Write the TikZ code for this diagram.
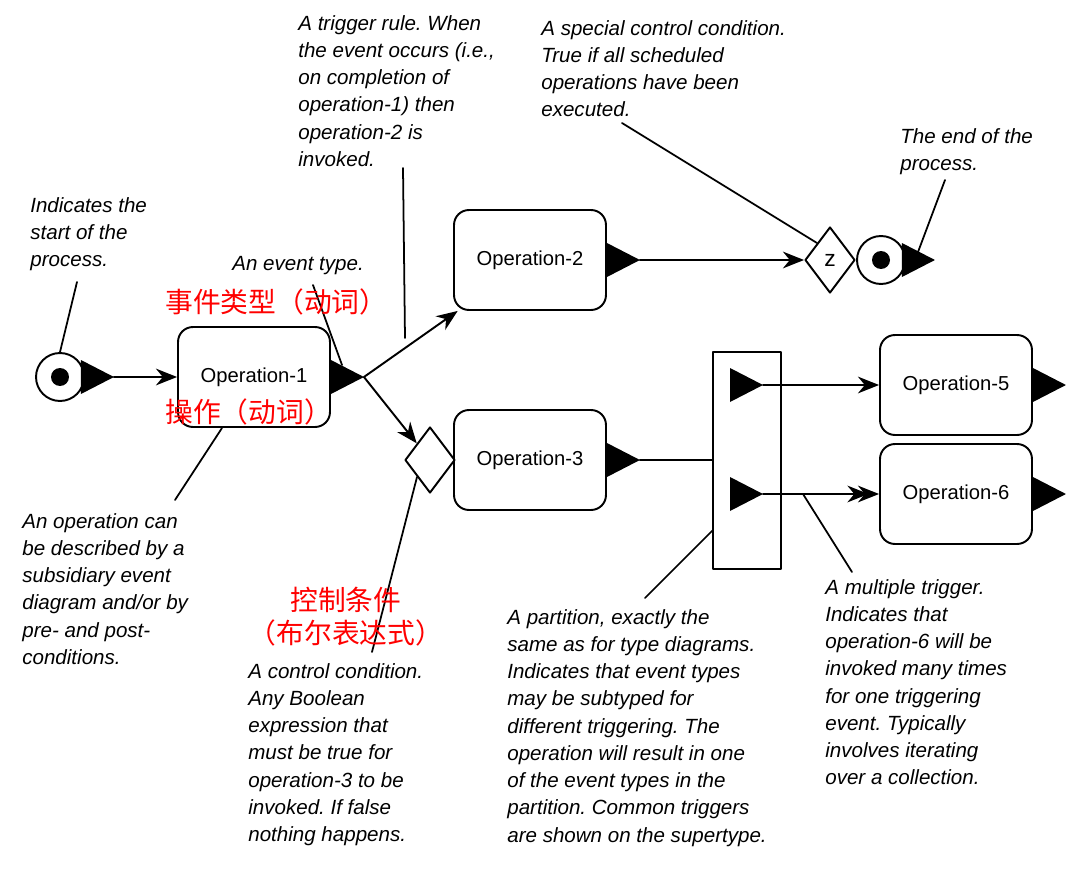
\documentclass[tikz,border=0pt]{standalone}
\usepackage{fontspec}
\setmainfont{Liberation Sans}
\newfontfamily\cjk{Noto Sans CJK SC}
\usepackage{tikz}
\usetikzlibrary{calc,shapes.geometric,arrows.meta}
\frenchspacing
\definecolor{ink}{HTML}{000000}
\definecolor{note}{HTML}{FF0000}
\tikzset{
  base/.style={draw=ink, line width=1.1pt, line cap=round, line join=round},
  op/.style={base, fill=white, rounded corners=8.5pt, minimum width=3.04cm, minimum height=2cm, inner sep=0pt, font=\fontsize{11.5}{14}\selectfont},
  cond/.style={base, fill=white, diamond, aspect=0.76, inner sep=0pt, minimum width=1cm, minimum height=1.32cm, font=\fontsize{13}{15}\selectfont},
  ends/.style={base, fill=white, circle, inner sep=0pt, minimum size=0.96cm},
  dot/.style={circle, fill=ink, inner sep=0pt, minimum size=0.36cm},
  part/.style={base, fill=white, minimum width=1.36cm, minimum height=4.34cm, inner sep=0pt},
  arr/.style={base, -{Stealth[length=12pt,width=9.5pt]}},
  multi/.style={base, -{Stealth[length=12pt,width=9.5pt,sep=-6pt]Stealth[length=12pt,width=9.5pt]}},
  lead/.style={draw=ink, line width=1pt, line cap=round},
  ann/.style={anchor=north west, inner sep=0pt, align=left, text=ink, font=\fontsize{11.7}{15.5}\selectfont\itshape},
  cn/.style={text=note, inner sep=0pt, font=\cjk\fontsize{15.8}{18.7}\selectfont},
}
\newcommand\port[2]{\fill[ink] (#1) ++(0,-17) -- ++(33,17) coordinate (#2) -- ++(-33,17) -- cycle;}

\begin{document}
\begin{tikzpicture}[x=0.02cm, y=-0.02cm]
  \fill[white] (0,0) rectangle (1080,879);
  \useasboundingbox (0,0) rectangle (1080,879);

  \node[ends] (start) at (60,377) {};
  \node[dot] at (start) {};
  \port{$(start.east)+(-4,0)$}{ts}

  \node[op] (op1) at (254,377) {Operation-1};
  \node[op] (op2) at (530,260) {Operation-2};
  \node[op] (op3) at (530,460) {Operation-3};
  \node[op] (op5) at (956,385) {Operation-5};
  \node[op] (op6) at (956,494) {Operation-6};
  \foreach \X/\T in {op1/t1,op2/t2,op3/t3,op5/t5,op6/t6}
    {\port{\X.east}{\T}}

  \node[cond] (c1) at (430,460) {};
  \node[cond] (cz) at (830,260) {z};
  \node[ends] (stop) at (881,260) {};
  \node[dot] at (stop) {};
  \port{$(stop.east)+(-4,0)$}{te}

  \node[part] (part) at (747,460.5) {};
  \port{730,385}{p5}
  \port{730,494}{p6}

  \draw[arr] (ts) -- (op1.west);
  \draw[arr] (t1) -- (op2);
  \draw[arr] (t1) -- (c1);
  \draw[arr] (t2) -- (cz);
  \draw[base] (t3) -- (t3 -| part.west);
  \draw[arr] (p5) -- (op5.west);
  \draw[multi] (p6) -- (op6.west);

  \node[ann] (nstart) at (30,197) {Indicates the\\start of the\\process.};
  \node[ann] (ntrig) at (298,15) {A trigger rule. When\\the event occurs (i.e.,\\on completion of\\operation-1) then\\operation-2 is\\invoked.};
  \node[ann] (nspec) at (541,20) {A special control condition.\\True if all scheduled\\operations have been\\executed.};
  \node[ann] (nend) at (900,128) {The end of the\\process.};
  \node[ann] (nevt) at (232,256) {An event type.};
  \node[ann] (nop) at (22,513) {An operation can\\be described by a\\subsidiary event\\diagram and/or by\\pre- and post-\\conditions.};
  \node[ann] (ncond) at (248,663) {A control condition.\\Any Boolean\\expression that\\must be true for\\operation-3 to be\\invoked. If false\\nothing happens.};
  \node[ann] (npart) at (507,609) {A partition, exactly the\\same as for type diagrams.\\Indicates that event types\\may be subtyped for\\different triggering. The\\operation will result in one\\of the event types in the\\partition. Common triggers\\are shown on the supertype.};
  \node[ann] (nmult) at (825,579) {A multiple trigger.\\Indicates that\\operation-6 will be\\invoked many times\\for one triggering\\event. Typically\\involves iterating\\over a collection.};

  \coordinate (l1) at (77,282);
  \coordinate (l2a) at (313,285);
  \coordinate (l2b) at (342,365);
  \coordinate (l3a) at (403,168);
  \coordinate (l3b) at (405,338);
  \coordinate (l4) at (622,123);
  \coordinate (l5a) at (945,180);
  \coordinate (l5b) at (918,252);
  \coordinate (l6a) at (175,500);
  \coordinate (l6b) at (222,428);
  \coordinate (l7) at (372,652);
  \coordinate (l8a) at (645,598);
  \coordinate (l8b) at (713,530);
  \coordinate (l9a) at (852,572);
  \coordinate (l9b) at (803,494);
  \draw[lead] (l1) -- (start.north);
  \draw[lead] (l2a) -- (l2b);
  \draw[lead] (l3a) -- (l3b);
  \draw[lead] (l4) -- (cz.north west);
  \draw[lead] (l5a) -- (l5b);
  \draw[lead] (l6a) -- (l6b);
  \draw[lead] (l7) -- (c1.south west);
  \draw[lead] (l8a) -- (l8b);
  \draw[lead] (l9a) -- (l9b);

  \node[cn, anchor=west] (cevt) at (165,302) {事件类型（动词）};
  \node[cn, anchor=west] (cop) at (165,412) {操作（动词）};
  \node[cn, align=center] (ccond) at (346,617) {控制条件\\（布尔表达式）};
\end{tikzpicture}
\end{document}
